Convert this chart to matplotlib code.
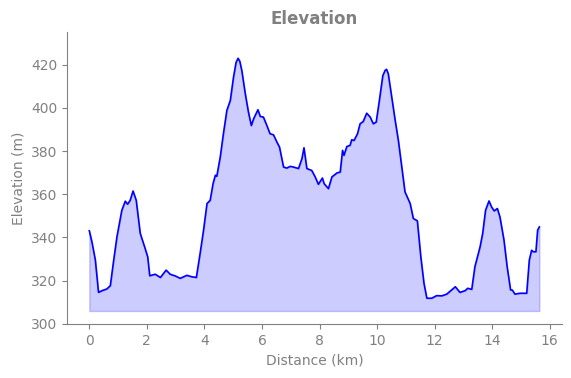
import matplotlib.pyplot as plt

# distance (km) and elevation (m)
distance = [0.00, 0.09, 0.21, 0.32, 0.44, 0.61, 0.73, 0.84, 0.96, 1.13, 1.25, 1.33, 1.42,
            1.52, 1.63, 1.77, 1.94, 2.03, 2.10, 2.29, 2.47, 2.67, 2.81, 2.99, 3.16, 3.39,
            3.57, 3.72, 3.85, 3.97, 4.09, 4.20, 4.30, 4.38, 4.43, 4.55, 4.66, 4.78, 4.90,
            5.01, 5.10, 5.17, 5.23, 5.30, 5.42, 5.53, 5.63, 5.71, 5.86, 5.94, 6.05, 6.17, 6.28,
            6.40, 6.52, 6.61, 6.75, 6.86, 6.98, 7.09, 7.27, 7.39, 7.46, 7.56, 7.73, 7.85,
            7.96, 8.10, 8.16, 8.31, 8.43, 8.60, 8.72, 8.80, 8.85, 8.95, 9.06, 9.12, 9.20,
            9.32, 9.41, 9.52, 9.64, 9.76, 9.87, 9.97, 10.08, 10.20, 10.28, 10.33, 10.39, 10.51,
            10.63, 10.74, 10.86, 10.97, 11.05, 11.15, 11.26, 11.40, 11.52, 11.63, 11.73,
            11.90, 12.07, 12.25, 12.42, 12.59, 12.72, 12.88, 13.06, 13.15, 13.29, 13.40,
            13.58, 13.67, 13.77, 13.89, 13.98, 14.07, 14.18, 14.27, 14.41, 14.52, 14.64,
            14.70, 14.79, 14.97, 15.20, 15.29, 15.37, 15.43, 15.52, 15.58, 15.64]
elevation = [343.1, 338.0, 329.5, 314.6, 315.4, 316.2, 317.7, 328.8, 340.3, 352.6, 356.8,
             355.4, 357.2, 361.5, 357.2, 341.9, 334.9, 331.0, 322.3, 323.0, 321.5, 324.9,
             323.0, 322.2, 321.1, 322.5, 321.8, 321.5, 332.6, 343.4, 355.7, 357.2, 364.9,
             368.8, 368.3, 377.2, 388.0, 398.8, 403.4, 414.1, 421.0, 422.9, 421.5, 417.2, 406.5,
             398.0, 391.8, 394.9, 399.1, 396.0, 395.7, 391.8, 388.0, 387.5, 384.1, 381.8,
             372.6, 372.1, 372.9, 372.6, 371.9, 376.5, 381.5, 371.9, 371.0, 368.0, 364.6,
             367.5, 364.9, 362.6, 368.0, 369.8, 370.3, 380.3, 378.0, 382.1, 382.6, 385.2,
             384.9, 388.0, 392.6, 393.7, 397.5, 395.7, 392.6, 393.4, 403.4, 414.9, 417.3, 417.8,
             415.7, 404.9, 394.1, 384.9, 372.6, 361.1, 358.7, 355.7, 348.8, 347.7, 331.1,
             318.8, 311.9, 311.9, 313.1, 313.0, 313.8, 315.7, 317.2, 314.6, 315.4, 316.5,
             316.0, 326.5, 335.7, 341.9, 352.6, 356.9, 354.1, 352.3, 353.4, 349.5, 338.8,
             326.5, 315.7, 315.7, 313.8, 314.2, 314.2, 329.5, 334.1, 333.4, 333.4, 343.4,
             344.9]
base = 306

gray = '#808080'
fig, ax = plt.subplots(figsize=(5.71, 3.78), dpi=100)
fig.subplots_adjust(left=0.117, right=0.984, bottom=0.143, top=0.915)

ax.plot(distance, elevation, color='blue', linewidth=1.2)
ax.fill_between(distance, elevation, base, color='blue', alpha=0.2)

ax.set_ylim(300, 435)
ax.set_title('Elevation', fontsize=12, fontweight='bold', color=gray)
ax.set_xlabel('Distance (km)', color=gray)
ax.set_ylabel('Elevation (m)', color=gray)
ax.tick_params(colors=gray)
ax.spines['top'].set_visible(False)
ax.spines['right'].set_visible(False)
ax.spines['left'].set_color(gray)
ax.spines['bottom'].set_color(gray)

plt.savefig('out.png')
